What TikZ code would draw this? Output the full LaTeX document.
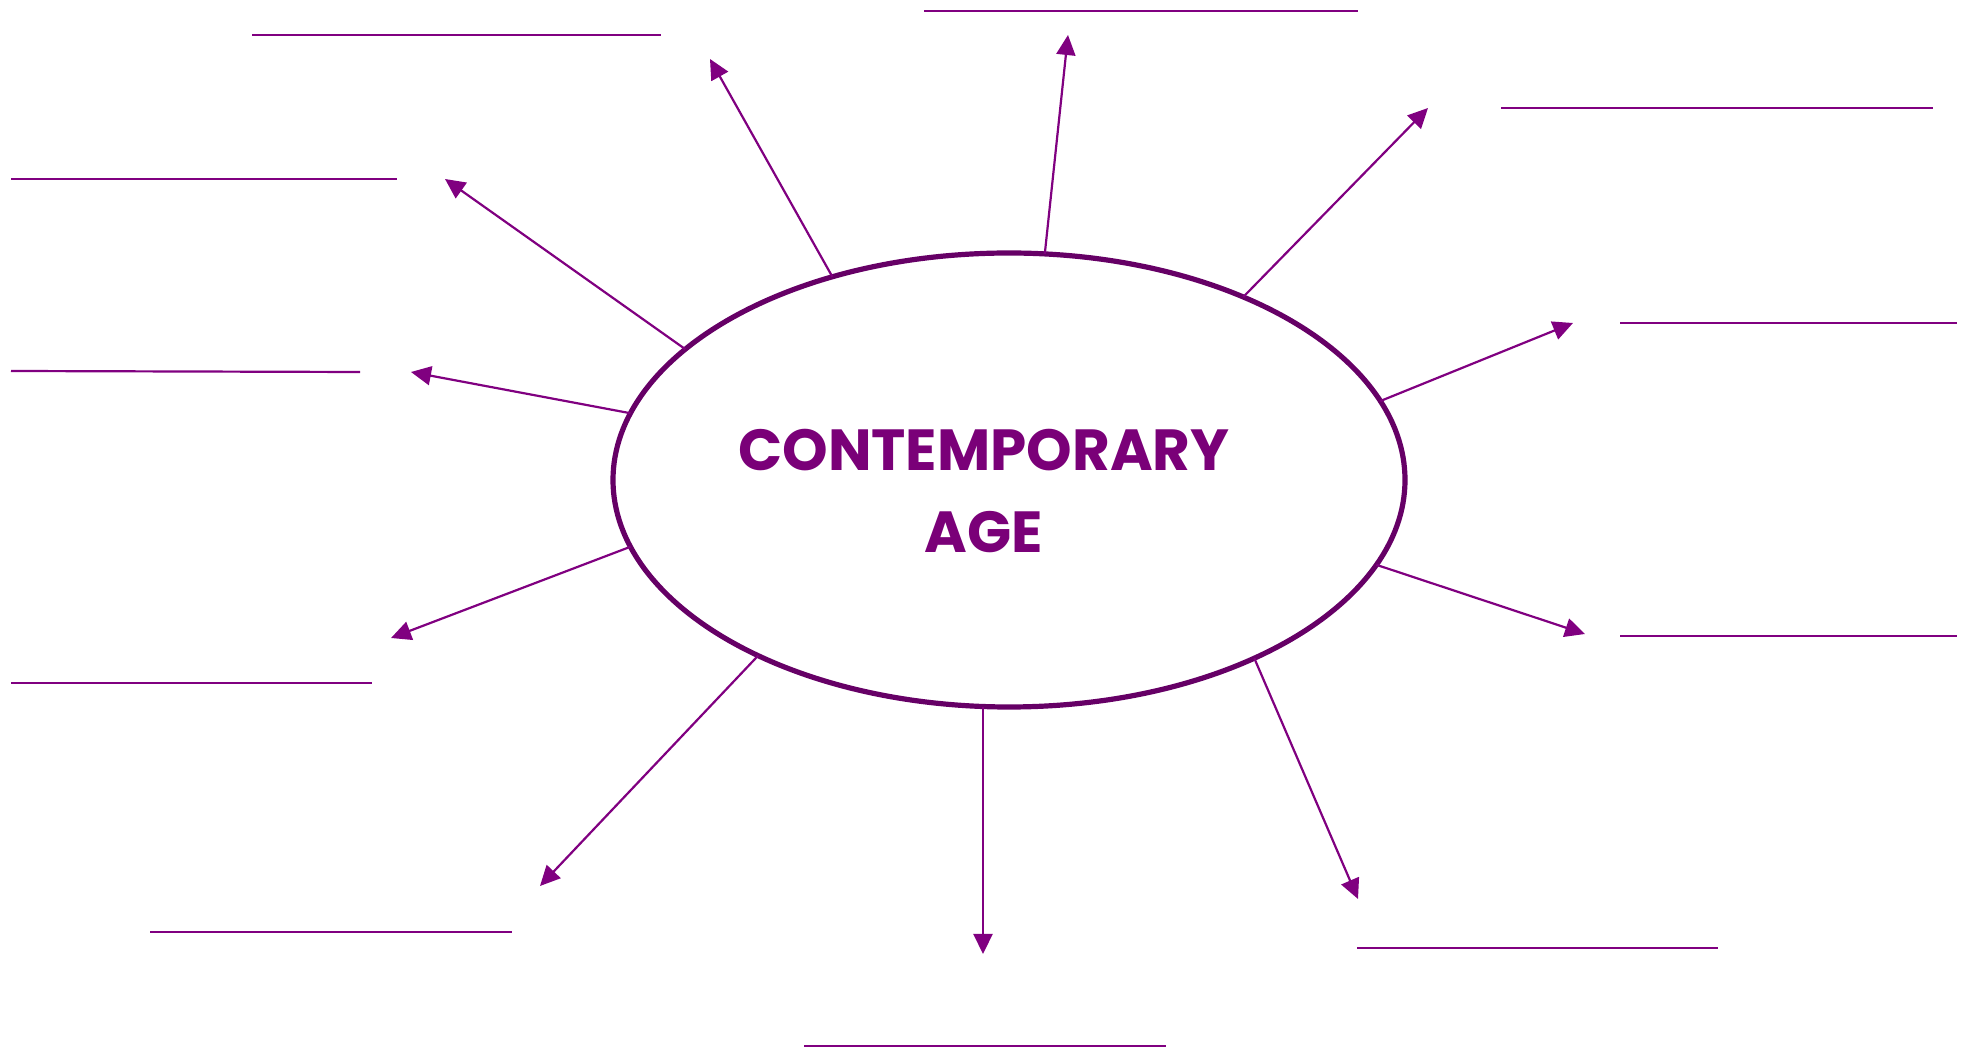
\documentclass[tikz,border=0pt]{standalone}
\usepackage{fontspec}
\setmainfont{Poppins}
\usetikzlibrary{arrows.meta,shapes.geometric}
\definecolor{ringc}{HTML}{660066}
\definecolor{linec}{HTML}{800080}
\definecolor{textc}{HTML}{7A0078}
\tikzset{
  ring/.style={ellipse,draw=ringc,line width=2.6pt,inner sep=0pt,outer sep=0pt,minimum width=396pt,minimum height=227pt},
  spoke/.style={draw=linec,line width=1.1pt,-{Triangle[length=10pt,width=9.5pt]}},
  blank/.style={draw=linec,line width=1.1pt},
  title/.style={text=textc,font=\bfseries\fontsize{29}{41}\selectfont,align=center,inner sep=0pt}
}
\begin{document}
\begin{tikzpicture}[x=0.5pt,y=-0.5pt]
\useasboundingbox (0,0) rectangle (1966,1052);
\node[ring] (e) at (1009,480) {};
\node[title] (t) at (984,491) {CONTEMPORARY\\AGE};
% arrow tips
\coordinate (ta) at (710,59);
\coordinate (tb) at (1068,35);
\coordinate (tc) at (1428,108);
\coordinate (td) at (445,179);
\coordinate (te) at (411,372);
\coordinate (tf) at (1573,323);
\coordinate (tg) at (391,638);
\coordinate (th) at (1585,634);
\coordinate (ti) at (540,886);
\coordinate (tj) at (983,954);
\coordinate (tk) at (1358,899);
\draw[spoke] (e.131.3) -- (ta);
\draw[spoke] (e.81.6) -- (tb);
\draw[spoke] (e.38.6) -- (tc);
\draw[spoke] (e.158.9) -- (td);
\draw[spoke] (e.170.5) -- (te);
\draw[spoke] (e.12.9) -- (tf);
\draw[spoke] (e.190.8) -- (tg);
\draw[spoke] (e.347.4) -- (th);
\draw[spoke] (e.215.2) -- (ti);
\draw[spoke] (e.south -| tj) -- (tj);
\draw[spoke] (e.324.2) -- (tk);
% answer lines
\coordinate (l1a) at (252,35);   \coordinate (l1b) at (661,35);
\coordinate (l2a) at (924,11);   \coordinate (l2b) at (1358,11);
\coordinate (l3a) at (11,179);   \coordinate (l3b) at (397,179);
\coordinate (l4a) at (1501,108); \coordinate (l4b) at (1933,108);
\coordinate (l5a) at (11,371);   \coordinate (l5b) at (360,372);
\coordinate (l6a) at (1620,323); \coordinate (l6b) at (1957,323);
\coordinate (l7a) at (11,683);   \coordinate (l7b) at (372,683);
\coordinate (l8a) at (1620,636); \coordinate (l8b) at (1957,636);
\coordinate (l9a) at (150,932);  \coordinate (l9b) at (512,932);
\coordinate (l10a) at (1357,948);\coordinate (l10b) at (1718,948);
\coordinate (l11a) at (804,1046);\coordinate (l11b) at (1166,1046);
\foreach \i in {1,...,11} {\draw[blank] (l\i a) -- (l\i b);}
\end{tikzpicture}
\end{document}
